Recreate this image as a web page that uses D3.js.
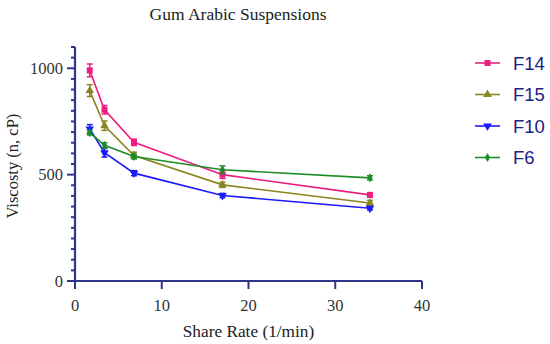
<!DOCTYPE html>
<html>
<head>
<meta charset="utf-8">
<script src="https://cdn.jsdelivr.net/npm/d3@7"></script>
<style>
  body { margin: 0; background: #fff; }
  svg { display: block; }
</style>
</head>
<body>
<svg id="here"></svg>
<script>
const shareRate = [1.7, 3.4, 6.8, 17, 34];
const seriesNames = ["F14", "F15", "F10", "F6"];
const f14 = [990, 805, 652, 500, 405];
const f15 = [895, 730, 590, 452, 367];
const f10 = [715, 603, 507, 402, 342];
const f6 = [697, 638, 585, 523, 485];
const f14Err = [30, 20, 15, 18, 10];
const f15Err = [28, 22, 15, 12, 12];
const f10Err = [20, 20, 12, 10, 8];
const f6Err = [10, 12, 10, 18, 10];
const xTicks = [0, 10, 20, 30, 40];
const yTicks = [0, 500, 1000];

const width = 550, height = 344;
const margin = {top: 47, right: 128, bottom: 63, left: 75};
const axisColor = "#2e3588";
const serif = "Liberation Serif, Times New Roman, serif";

const svg = d3.select("#here").attr("width", width).attr("height", height);

const x = d3.scaleLinear().domain([0, 40]).range([margin.left, width - margin.right]);
const y = d3.scaleLinear().domain([0, 1100]).range([height - margin.bottom, margin.top]);

const series = [
  {name: "F14", values: f14, err: f14Err, color: "#ec1c80", symbol: d3.symbolSquare, size: 36, rot: 0},
  {name: "F15", values: f15, err: f15Err, color: "#8a8520", symbol: d3.symbolTriangle, size: 32, rot: 0},
  {name: "F10", values: f10, err: f10Err, color: "#1a1aff", symbol: d3.symbolTriangle, size: 32, rot: 180},
  {name: "F6", values: f6, err: f6Err, color: "#1e8c28", symbol: d3.symbolDiamond, size: 24, rot: 0}
];

// title
svg.append("text")
  .attr("x", 238).attr("y", 20)
  .attr("text-anchor", "middle")
  .attr("font-family", serif)
  .attr("font-size", 17.5)
  .attr("fill", "#222")
  .text("Gum Arabic Suspensions");

// y axis with minor ticks
const yMinor = d3.range(0, 1101, 50).filter(v => v % 500 !== 0);
const yAxisG = svg.append("g").attr("transform", `translate(${x(0)},0)`);
yAxisG.append("line")
  .attr("x1", 0).attr("x2", 0)
  .attr("y1", y(0)).attr("y2", y(1100))
  .attr("stroke", axisColor).attr("stroke-width", 2.2);
yAxisG.selectAll(".minor").data(yMinor).enter().append("line")
  .attr("x1", -4).attr("x2", 0)
  .attr("y1", d => y(d)).attr("y2", d => y(d))
  .attr("stroke", axisColor).attr("stroke-width", 2);
yAxisG.selectAll(".major").data(yTicks).enter().append("line")
  .attr("x1", -8).attr("x2", 0)
  .attr("y1", d => y(d)).attr("y2", d => y(d))
  .attr("stroke", axisColor).attr("stroke-width", 2);
yAxisG.selectAll(".lab").data(yTicks).enter().append("text")
  .attr("x", -12).attr("y", d => y(d))
  .attr("dy", "0.35em")
  .attr("text-anchor", "end")
  .attr("font-family", serif)
  .attr("font-size", 16.5)
  .attr("fill", "#333")
  .text(d => d);

// x axis
const xAxisG = svg.append("g").attr("transform", `translate(0,${y(0)})`);
xAxisG.append("line")
  .attr("x1", x(0) - 1).attr("x2", x(40))
  .attr("y1", 0).attr("y2", 0)
  .attr("stroke", axisColor).attr("stroke-width", 2.2);
xAxisG.selectAll(".major").data(xTicks).enter().append("line")
  .attr("x1", d => x(d)).attr("x2", d => x(d))
  .attr("y1", 0).attr("y2", 8)
  .attr("stroke", axisColor).attr("stroke-width", 2);
xAxisG.selectAll(".lab").data(xTicks).enter().append("text")
  .attr("x", d => x(d)).attr("y", 30)
  .attr("text-anchor", "middle")
  .attr("font-family", serif)
  .attr("font-size", 16.5)
  .attr("fill", "#333")
  .text(d => d);

// axis titles
svg.append("text")
  .attr("x", x(20)).attr("y", 337)
  .attr("text-anchor", "middle")
  .attr("font-family", serif)
  .attr("font-size", 17.3)
  .attr("fill", "#222")
  .text("Share Rate (1/min)");
svg.append("text")
  .attr("transform", `translate(18,${y(540)}) rotate(-90)`)
  .attr("text-anchor", "middle")
  .attr("font-family", serif)
  .attr("font-size", 16.5)
  .attr("fill", "#222")
  .text("Viscosty (n, cP)");

// lines, error bars, markers
const line = d3.line()
  .x((d, i) => x(shareRate[i]))
  .y(d => y(d));

series.forEach(s => {
  const g = svg.append("g");
  g.append("path")
    .attr("d", line(s.values))
    .attr("fill", "none")
    .attr("stroke", s.color)
    .attr("stroke-width", 1.6);
  s.values.forEach((v, i) => {
    const cx = x(shareRate[i]);
    g.append("line")
      .attr("x1", cx).attr("x2", cx)
      .attr("y1", y(v - s.err[i])).attr("y2", y(v + s.err[i]))
      .attr("stroke", s.color).attr("stroke-width", 1.5);
    [v - s.err[i], v + s.err[i]].forEach(e => {
      g.append("line")
        .attr("x1", cx - 3).attr("x2", cx + 3)
        .attr("y1", y(e)).attr("y2", y(e))
        .attr("stroke", s.color).attr("stroke-width", 1.5);
    });
    g.append("path")
      .attr("d", d3.symbol().type(s.symbol).size(s.size)())
      .attr("transform", `translate(${cx},${y(v)}) rotate(${s.rot})`)
      .attr("fill", s.color);
  });
});

// legend
const legend = svg.append("g");
series.forEach((s, i) => {
  const ly = 63 + i * 31.5;
  legend.append("line")
    .attr("x1", 475).attr("x2", 500)
    .attr("y1", ly).attr("y2", ly)
    .attr("stroke", s.color).attr("stroke-width", 1.6);
  legend.append("path")
    .attr("d", d3.symbol().type(s.symbol).size(s.size)())
    .attr("transform", `translate(487.5,${ly}) rotate(${s.rot})`)
    .attr("fill", s.color);
  legend.append("text")
    .attr("x", 513).attr("y", ly)
    .attr("dy", "0.36em")
    .attr("font-family", "Liberation Sans, Arial, sans-serif")
    .attr("font-size", 18.5)
    .attr("fill", "#1c2280")
    .text(seriesNames[i]);
});
</script>
</body>
</html>
